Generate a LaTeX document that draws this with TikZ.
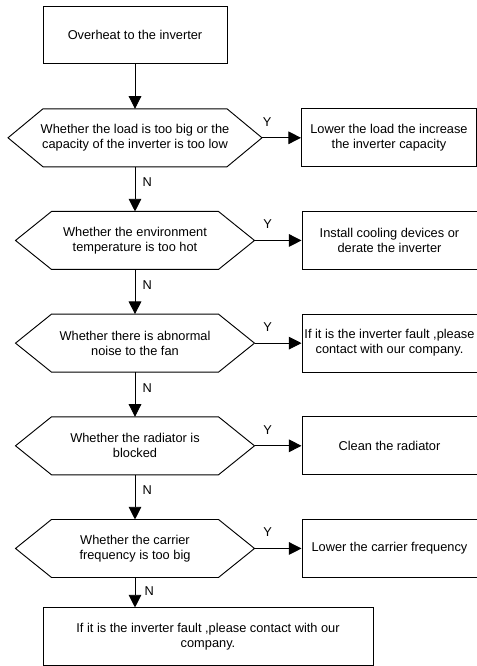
\documentclass[tikz,border=0pt]{standalone}
\usepackage{fontspec}
\setmainfont{Liberation Sans}
\usetikzlibrary{arrows.meta, positioning}

\begin{document}
\begin{tikzpicture}[
    node distance=33.5pt,
    font=\fontsize{9.6}{11.3}\selectfont,
    startstop/.style={draw, rectangle, line width=0.7pt, minimum width=138pt, minimum height=42.75pt, align=center},
    decision/.style={rectangle, outer sep=0pt, minimum width=179.25pt, minimum height=43.5pt, align=center},
    hexline/.style={line width=0.7pt, line join=miter},
    process/.style={draw, rectangle, line width=0.7pt, minimum width=131.25pt, minimum height=43.5pt, align=center, inner xsep=1pt},
    arrow/.style={line width=0.7pt, -{Triangle[length=9.5pt, width=9.5pt]}},
    ylab/.style={pos=0.28, yshift=12pt},
    nlab/.style={right, pos=0.35, xshift=2pt}
]
\useasboundingbox (-101.25pt,26.125pt) rectangle (256.5pt,-473.375pt);

\node (start) [startstop] {Overheat to the inverter};
\node (h1) [decision, below=33.75pt of start, minimum width=190.5pt] {Whether the load is too big or the\\capacity of the inverter is too low};
\node (r1) [process, right=29.25pt of h1] {Lower the load the increase\\the inverter capacity};
\node (h2) [decision, below=of h1] {Whether the environment\\temperature is too hot};
\node (r2) [process, right=35.25pt of h2] {Install cooling devices or\\derate the inverter};
\node (h3) [decision, below=of h2] {Whether there is abnormal\\noise to the fan};
\node (r3) [process, right=35.25pt of h3] {If it is the inverter fault ,please\\contact with our company.};
\node (h4) [decision, below=of h3] {Whether the radiator is\\blocked};
\node (r4) [process, right=35.25pt of h4] {Clean the radiator};
\node (h5) [decision, below=of h4] {Whether the carrier\\frequency is too big};
\node (r5) [process, right=35.25pt of h5] {Lower the carrier frequency};
\coordinate (c5) at (h5.south -| start.west);
\node (fin) [startstop, below right=22.5pt and 0pt of c5, minimum width=247.5pt, minimum height=43.5pt] {If it is the inverter fault ,please contact with our\\company.};

% hexagon outlines of the decisions
\foreach \n/\c in {h1/26.25pt, h2/27pt, h3/27pt, h4/27pt, h5/27pt}
    \draw [hexline] (\n.west) -- ([xshift=\c]\n.north west) -- ([xshift=-\c]\n.north east)
        -- (\n.east) -- ([xshift=-\c]\n.south east) -- ([xshift=\c]\n.south west) -- cycle;

\draw [arrow] (start) -- (h1);
\draw [arrow] (h1) -- node[ylab, pos=0.13] {Y} (r1);
\draw [arrow] (h1) -- node[nlab] {N} (h2);
\draw [arrow] (h2) -- node[ylab] {Y} (r2);
\draw [arrow] (h2) -- node[nlab] {N} (h3);
\draw [arrow] (h3) -- node[ylab] {Y} (r3);
\draw [arrow] (h3) -- node[nlab] {N} (h4);
\draw [arrow] (h4) -- node[ylab] {Y} (r4);
\draw [arrow] (h4) -- node[nlab] {N} (h5);
\draw [arrow] (h5) -- node[ylab] {Y} (r5);
\draw [arrow] (h5) -- node[nlab, pos=0.47, xshift=1.5pt] {N} (h5.south |- fin.north);

\end{tikzpicture}
\end{document}
